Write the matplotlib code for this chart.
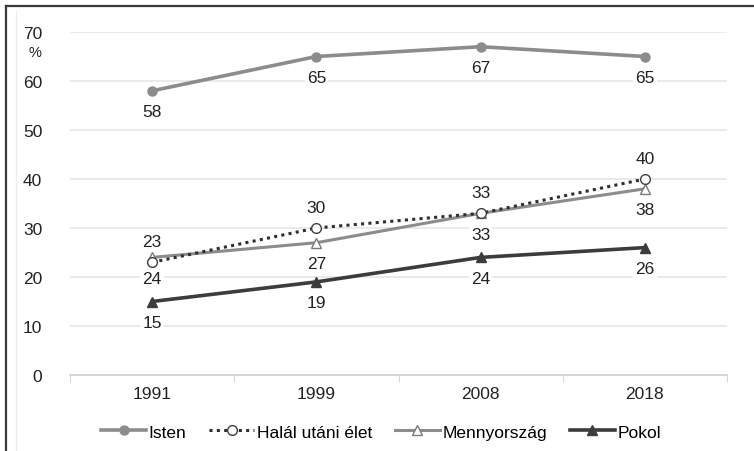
import matplotlib
matplotlib.use("Agg")
import matplotlib.pyplot as plt
from matplotlib.lines import Line2D

plt.rcParams['font.family'] = ['Liberation Sans', 'DejaVu Sans']

years = ["1991", "1999", "2008", "2018"]
isten = [58, 65, 67, 65]
halal = [23, 30, 33, 40]
menny = [24, 27, 33, 38]
pokol = [15, 19, 24, 26]
series_names = ["Isten", "Halál utáni élet", "Mennyország", "Pokol"]
yticks = [0, 10, 20, 30, 40, 50, 60, 70]

W, H = 754, 452
fig = plt.figure(figsize=(W / 100, H / 100), dpi=100)
ax = fig.add_axes([70 / W, 1 - 376 / H, (727 - 70) / W, (376 - 33) / H])

x = list(range(len(years)))
ax.plot(x, isten, color="#8c8c8c", lw=2.6, marker="o", ms=6.5, mfc="#8c8c8c", mec="#8c8c8c", zorder=3)
ax.plot(x, halal, color="#2e2e2e", lw=2.2, ls=(0, (1, 1.4)), marker="o", ms=7, mfc="white", mec="#404040", mew=1, zorder=4)
ax.plot(x, menny, color="#8c8c8c", lw=2.2, marker="^", ms=7, mfc="white", mec="#7a7a7a", mew=1, zorder=3)
ax.plot(x, pokol, color="#3c3c3c", lw=2.6, marker="^", ms=7, mfc="#3c3c3c", mec="#3c3c3c", zorder=3)

bbox = dict(boxstyle="square,pad=0.12", fc="white", ec="none")
fs = 12.5
def lab(vals, dy):
    for i, v in enumerate(vals):
        ax.annotate(str(v), (i, v), xytext=(0, dy), textcoords="offset points",
                    ha="center", va="center", fontsize=fs, color="#222222", bbox=bbox, zorder=2)
lab(isten, -15)
lab(halal, 15)
lab(menny, -15)
lab(pokol, -15)

ax.set_xlim(-0.5, 3.5)
ax.set_ylim(0, 70)
ax.set_yticks(yticks)
ax.set_yticklabels([str(t) for t in yticks], fontsize=fs, color="#222222")
ax.set_xticks(x)
ax.set_xticklabels(years, fontsize=fs, color="#222222")
ax.tick_params(axis="both", length=0)
ax.tick_params(axis="x", pad=8)
ax.tick_params(axis="y", pad=20)
ax.set_xticks([-0.5, 0.5, 1.5, 2.5, 3.5], minor=True)
ax.tick_params(axis="x", which="minor", length=5, color="#d0d0d0", direction="out")
ax.grid(axis="y", color="#e6e6e6", lw=1.2, zorder=0)
ax.set_axisbelow(True)
for s in ["top", "right", "left"]:
    ax.spines[s].set_visible(False)
ax.spines["bottom"].set_color("#d0d0d0")
ax.spines["bottom"].set_linewidth(1.2)

fig.text(35 / W, 1 - 53 / H, "%", fontsize=10.5, ha="center", va="center", color="#222222")

handles = [
    Line2D([], [], color="#8c8c8c", lw=2.6, marker="o", ms=6.5, mfc="#8c8c8c", mec="#8c8c8c"),
    Line2D([], [], color="#2e2e2e", lw=2.2, ls=(0, (1, 1.4)), marker="o", ms=7, mfc="white", mec="#404040"),
    Line2D([], [], color="#8c8c8c", lw=2.2, marker="^", ms=7, mfc="white", mec="#7a7a7a"),
    Line2D([], [], color="#3c3c3c", lw=2.6, marker="^", ms=7, mfc="#3c3c3c", mec="#3c3c3c"),
]
fig.legend(handles, series_names, loc="center", bbox_to_anchor=(381 / W, 1 - 433 / H), ncol=4,
           frameon=False, fontsize=fs, handlelength=2.6, handletextpad=0.15, columnspacing=1.3)

# outer frame
fig.add_artist(Line2D([6 / W, 1], [1 - 7 / H, 1 - 7 / H], transform=fig.transFigure, color="#3a3a3a", lw=1.6))
fig.add_artist(Line2D([6 / W, 6 / W], [0, 1 - 7 / H], transform=fig.transFigure, color="#3a3a3a", lw=1.6))
fig.add_artist(Line2D([16 / W, 16 / W], [0, 1 - 12 / H], transform=fig.transFigure, color="#eeeeee", lw=1))

fig.savefig("out.png", dpi=100)
